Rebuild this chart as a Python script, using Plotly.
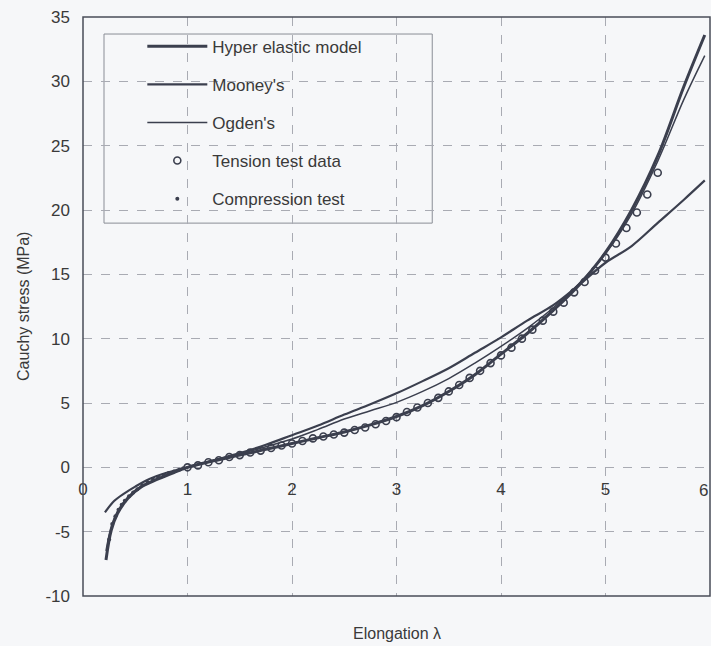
import plotly.graph_objects as go

# ---- data ----
lam_hyper = [0.22, 0.27, 0.33, 0.43, 0.56, 0.72, 0.87, 1.0, 1.25, 1.5, 1.75, 2.0, 2.25, 2.5, 2.75,
             3.0, 3.25, 3.5, 3.75, 4.0, 4.25, 4.5, 4.75, 5.0, 5.25, 5.5, 5.75, 5.95]
sig_hyper = [-7.2, -4.9, -3.6, -2.4, -1.5, -0.9, -0.4, 0.0, 0.5, 0.95, 1.4, 1.85, 2.3, 2.75, 3.3,
             3.95, 4.8, 5.9, 7.2, 8.8, 10.4, 12.2, 14.2, 16.7, 20.0, 24.2, 29.6, 33.6]

lam_mooney = [0.21, 0.3, 0.4, 0.5, 0.6, 0.7, 0.8, 0.9, 1.0, 1.25, 1.5, 1.75, 2.0, 2.25, 2.5, 2.75,
              3.0, 3.25, 3.5, 3.75, 4.0, 4.25, 4.5, 4.75, 5.0, 5.25, 5.5, 5.75, 5.95]
sig_mooney = [-3.5, -2.6, -2.0, -1.5, -1.05, -0.7, -0.42, -0.2, 0.0, 0.55, 1.1, 1.75, 2.5, 3.25, 4.1, 4.9,
              5.75, 6.7, 7.7, 8.9, 10.1, 11.4, 12.6, 14.2, 15.9, 17.2, 19.0, 20.8, 22.3]

lam_ogden = [0.22, 0.27, 0.33, 0.43, 0.56, 0.72, 0.87, 1.0, 1.25, 1.5, 1.75, 2.0, 2.25, 2.5, 2.75,
             3.0, 3.25, 3.5, 3.75, 4.0, 4.25, 4.5, 4.75, 5.0, 5.25, 5.5, 5.75, 5.95]
sig_ogden = [-6.5, -4.6, -3.4, -2.3, -1.45, -0.85, -0.38, 0.0, 0.55, 1.05, 1.6, 2.2, 2.95, 3.75, 4.4,
             5.05, 5.9, 6.9, 8.1, 9.4, 10.8, 12.4, 14.3, 16.6, 19.7, 23.8, 28.6, 32.0]

lam_tension = [1.0, 1.1, 1.2, 1.3, 1.4, 1.5, 1.6, 1.7, 1.8, 1.9, 2.0, 2.1, 2.2, 2.3, 2.4, 2.5,
               2.6, 2.7, 2.8, 2.9, 3.0, 3.1, 3.2, 3.3, 3.4, 3.5, 3.6, 3.7, 3.8, 3.9, 4.0, 4.1,
               4.2, 4.3, 4.4, 4.5, 4.6, 4.7, 4.8, 4.9, 5.0, 5.1, 5.2, 5.3, 5.4, 5.5]
sig_tension = [0.0, 0.15, 0.4, 0.55, 0.8, 0.95, 1.15, 1.3, 1.5, 1.7, 1.85, 2.05, 2.25, 2.4, 2.55, 2.7,
               2.9, 3.1, 3.35, 3.6, 3.9, 4.3, 4.65, 5.0, 5.4, 5.9, 6.4, 6.95, 7.5, 8.1, 8.7, 9.3,
               10.0, 10.7, 11.4, 12.1, 12.8, 13.6, 14.4, 15.3, 16.3, 17.4, 18.6, 19.8, 21.2, 22.9]

lam_comp = [0.25, 0.28, 0.31, 0.34, 0.37, 0.40, 0.44, 0.48, 0.52, 0.57, 0.62, 0.67, 0.72, 0.77,
            0.82, 0.87, 0.92, 0.96]
sig_comp = [-5.6, -4.4, -3.8, -3.3, -2.9, -2.6, -2.25, -1.95, -1.7, -1.4, -1.15, -0.95, -0.78, -0.6,
            -0.45, -0.32, -0.18, -0.08]

x_ticks = [0, 1, 2, 3, 4, 5, 6]
y_ticks = [-10, -5, 0, 5, 10, 15, 20, 25, 30, 35]

INK = "#3b3f4e"
TXT = "#3a3a3a"
FONT = "Liberation Sans, Arial, sans-serif"

fig = go.Figure()
fig.add_trace(go.Scatter(x=lam_hyper, y=sig_hyper, mode="lines", name="Hyper elastic model",
                         line=dict(color=INK, width=3, shape="spline"), legendgroup="a"))
fig.add_trace(go.Scatter(x=lam_mooney, y=sig_mooney, mode="lines", name="Mooney's",
                         line=dict(color=INK, width=2.2, shape="spline"), legendgroup="b"))
fig.add_trace(go.Scatter(x=lam_ogden, y=sig_ogden, mode="lines", name="Ogden's",
                         line=dict(color=INK, width=1.5, shape="spline"), legendgroup="c"))
fig.add_trace(go.Scatter(x=lam_tension, y=sig_tension, mode="markers", name="Tension test data",
                         marker=dict(symbol="circle-open", size=7, color=INK, line=dict(width=1.6)),
                         legendgroup="d"))
fig.add_trace(go.Scatter(x=lam_comp, y=sig_comp, mode="markers", name="Compression test",
                         marker=dict(symbol="circle", size=4, color=INK), legendgroup="e"))

# frame and legend box
fig.add_shape(type="rect", xref="paper", yref="paper", x0=0, y0=0, x1=1, y1=1,
              line=dict(color="#4a4d58", width=1.5), layer="above")
fig.add_shape(type="rect", xref="paper", yref="paper", x0=0.0335, y0=0.644, x1=0.557, y1=0.9706,
              line=dict(color="#8a8d96", width=1), fillcolor="rgba(255,255,255,0)", layer="below")

fig.add_annotation(text="Cauchy stress (MPa)", xref="paper", yref="paper", x=-0.095, y=0.5,
                   textangle=-90, showarrow=False, font=dict(size=16, color=TXT, family=FONT),
                   xanchor="center", yanchor="middle")
fig.add_annotation(text="Elongation λ", xref="paper", yref="paper", x=0.5, y=-0.064,
                   showarrow=False, font=dict(size=16, color=TXT, family=FONT),
                   xanchor="center", yanchor="middle")
# last x tick label sits at the page edge
fig.add_annotation(text=str(x_ticks[-1]), xref="x", yref="y", x=x_ticks[-1], y=0,
                   showarrow=False, font=dict(size=17, color=TXT, family=FONT),
                   xanchor="right", yanchor="middle", yshift=-23)

fig.update_layout(
    width=711, height=646,
    margin=dict(l=83, r=1, t=17, b=50),
    paper_bgcolor="#f6f7f9", plot_bgcolor="#f6f7f9",
    font=dict(family=FONT, size=16, color=TXT),
    showlegend=True,
    legend=dict(x=0.0946, y=0.9798, xanchor="left", yanchor="top", bgcolor="rgba(0,0,0,0)",
                borderwidth=0, font=dict(size=17, color=TXT, family=FONT),
                itemwidth=60, tracegroupgap=13, traceorder="grouped"),
    xaxis=dict(range=[0, 6], tickvals=x_ticks[:-1], ticktext=[str(v) for v in x_ticks[:-1]],
               showgrid=True, gridcolor="#a9abb3", griddash="dash", gridwidth=1,
               zeroline=False, showline=False, ticks="", tickfont=dict(size=17),
               anchor="free", position=10 / 45, ticklabelstandoff=10),
    yaxis=dict(range=[-10, 35], tickvals=y_ticks, ticktext=[str(v) for v in y_ticks],
               showgrid=True, gridcolor="#a9abb3", griddash="dash", gridwidth=1,
               zeroline=False, showline=False, ticks="", tickfont=dict(size=17),
               ticklabelstandoff=12),
)

fig.write_html("out.html")
